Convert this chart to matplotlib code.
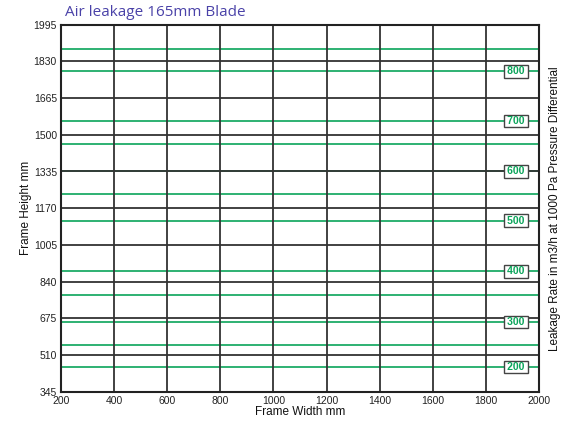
import matplotlib
matplotlib.use("Agg")
import matplotlib.pyplot as plt

# Data
x_ticks = [200, 400, 600, 800, 1000, 1200, 1400, 1600, 1800, 2000]
y_ticks = [345, 510, 675, 840, 1005, 1170, 1335, 1500, 1665, 1830, 1995]
leak_levels = [200, 250, 300, 350, 400, 500, 550, 600, 650, 700, 800, 850]
leak_heights = [455, 554, 658, 778, 886, 1114, 1233, 1335, 1460, 1562, 1785, 1885]
labeled_levels = [200, 300, 400, 500, 600, 700, 800]
label_x = 1913

plt.rcParams['font.family'] = ['Liberation Sans', 'DejaVu Sans']

fig = plt.figure(figsize=(5.71, 4.23), dpi=100)
ax = fig.add_axes([61/571, 1-391.7/423, (539-61)/571, (391.7-24.7)/423])

ax.set_xlim(200, 2000)
ax.set_ylim(345, 1995)
ax.set_xticks(x_ticks)
ax.set_yticks(y_ticks)
ax.tick_params(axis='both', length=0, labelsize=7.5, labelcolor='#222222', pad=3)

green = '#0aa45a'
for lvl, h in zip(leak_levels, leak_heights):
    ax.axhline(h, color=green, lw=1.2, zorder=1)

for y in y_ticks[1:-1]:
    ax.axhline(y, color='#333333', lw=1.3, zorder=2)
for x in x_ticks[1:-1]:
    ax.axvline(x, color='#333333', lw=1.3, zorder=2)

for lvl, h in zip(leak_levels, leak_heights):
    if lvl in labeled_levels:
        ax.text(label_x, h, '\u2009' + str(lvl) + '\u2009', color=green, fontsize=7.5,
                fontweight='bold', ha='center', va='center', zorder=5,
                family=['DejaVu Sans'] if False else ['Liberation Sans', 'DejaVu Sans'],
                bbox=dict(boxstyle='square,pad=0.12', fc='white', ec='#444444', lw=1))

for s in ax.spines.values():
    s.set_color('#222222')
    s.set_linewidth(1.5)
    s.set_zorder(6)

ax.set_xlabel('Frame Width mm', fontsize=8.5, labelpad=0, color='#111111')
ax.set_ylabel('Frame Height mm', fontsize=8.5, labelpad=1, color='#111111')
ax2 = ax.twinx()
ax2.set_yticks([])
ax2.set_ylabel('Leakage Rate in m3/h at 1000 Pa Pressure Differential', fontsize=8.5,
               labelpad=7, color='#111111')
for s in ax2.spines.values():
    s.set_visible(False)

fig.text(65/571, 1-12/423, 'Air leakage 165mm Blade', color='#4a42a8', fontsize=11,
         ha='left', va='center', family=['Open Sans', 'DejaVu Sans'])

fig.savefig('out.png', dpi=100)
